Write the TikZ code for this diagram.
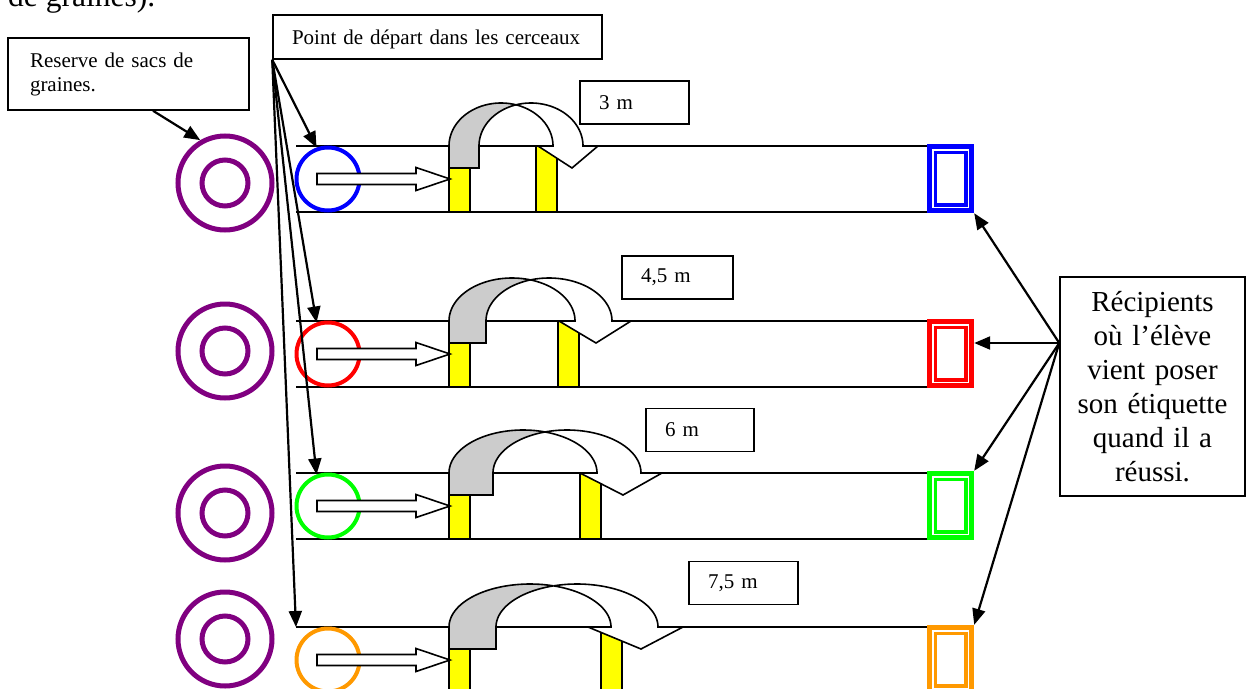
\documentclass[tikz,border=0pt]{standalone}
\usepackage{fontspec}
\setmainfont{Liberation Serif}
\usetikzlibrary{arrows.meta}

\definecolor{hoopblue}{RGB}{0,0,255}
\definecolor{hoopred}{RGB}{255,0,0}
\definecolor{hoopgreen}{RGB}{0,255,0}
\definecolor{hooporange}{RGB}{255,153,0}
\definecolor{stockpurple}{RGB}{128,0,128}
\definecolor{postyellow}{RGB}{255,255,0}
\definecolor{backgray}{RGB}{204,204,204}

% Curved jump arrow over the hurdles:
% #1 lane top, #2 left x, #3 half width of one arc, #4 band width,
% #5 head left x, #6 head right x, #7 head tip x
\newcommand{\jumparrow}[7]{%
  \pgfmathsetmacro{\jaA}{#2+#3}%
  \pgfmathsetmacro{\jaB}{#2+#4+#3}%
  \pgfmathsetmacro{\jaT}{acos(#4/(2*#3))}%
  \pgfmathsetmacro{\jaP}{180-\jaT}%
  \pgfmathsetmacro{\jaY}{#1+22}%
  \pgfmathsetmacro{\jaI}{#2+#4}%
  % back side of the ribbon
  \filldraw[band, fill=backgray] (#2,\jaY)
    -- plot[domain=180:\jaT, samples=40] ({\jaA+#3*cos(\x)},{#1-43*sin(\x)})
    -- plot[domain=\jaP:180, samples=40] ({\jaB+#3*cos(\x)},{#1-43*sin(\x)})
    -- (\jaI,\jaY) -- cycle;
  % front side with the arrow head
  \filldraw[band, fill=white]
    plot[domain=\jaT:0, samples=40] ({\jaA+#3*cos(\x)},{#1-43*sin(\x)})
    -- (#5,#1) -- (#7,\jaY) -- (#6,#1)
    -- plot[domain=0:\jaP, samples=40] ({\jaB+#3*cos(\x)},{#1-43*sin(\x)})
    -- cycle;
}

\begin{document}
\begin{tikzpicture}[x=1pt, y=-1pt,
  box/.style={draw, line width=1.5pt, inner ysep=0pt, fill=white,
              font=\fontsize{21}{24}\selectfont},
  distbox/.style={box, minimum height=43pt, inner xsep=19pt, align=left},
  conn/.style={draw, line width=2.2pt, -{Triangle[length=16pt,width=13pt]}},
  laneline/.style={line width=2pt},
  post/.style={draw=black, fill=postyellow, line width=1.6pt},
  band/.style={draw=black, line width=1.6pt, line join=miter},
  runarrow/.style={draw=black, fill=white, line width=1.6pt},
  hoop/.style={circle, line width=4pt, minimum size=63pt, inner sep=0pt},
  stock/.style={circle, draw=stockpurple, line width=5pt, minimum size=94pt, inner sep=0pt},
  bin/.style={rectangle, minimum width=47pt, minimum height=69pt, inner sep=0pt}
]
\useasboundingbox (0,0) rectangle (1247,688);

% end of the sentence above the plan
\node[anchor=base west, inner sep=0pt, font=\fontsize{31.5}{36}\selectfont] (intro) at (8,6) {de graines).};

% four running lanes
\foreach \i/\yt/\col/\py/\pb/\rx/\bw/\hl/\hr/\tx in {
  1/146/hoopblue/183/536/52/30/538/598/572,
  2/321/hoopred/351/558/63/37/559/631/596,
  3/473/hoopgreen/513/580/74/44/580/662/623,
  4/627/hooporange/639/601/81/47/588/683/641}{
  \pgfmathsetmacro{\yb}{\yt+66}
  \pgfmathsetmacro{\yc}{\yt+33}
  \pgfmathsetmacro{\pe}{\pb+21}
  % lane borders
  \coordinate (lanestart\i) at (296,\yt);
  \draw[laneline] (lanestart\i) -- (927,\yt);
  \draw[laneline] (296,\yb) -- (927,\yb);
  % stock of seed bags
  \node[stock] (stock\i) at (225,\py) {};
  \draw[stockpurple, line width=5pt] (stock\i.center) circle[radius=23pt];
  % hurdles
  \filldraw[post] (449,\yt) rectangle (470,\yb);
  \filldraw[post] (\pb,\yt) rectangle (\pe,\yb);
  % jump over the hurdles
  \jumparrow{\yt}{449}{\rx}{\bw}{\hl}{\hr}{\tx}
  % starting hoop and run
  \node[hoop, draw=\col] (hoop\i) at (328,\yc) {};
  \filldraw[runarrow] (317,\yc-5.5) -- (416,\yc-5.5) -- (416,\yc-11.5)
    -- (450,\yc) -- (416,\yc+11.5) -- (416,\yc+5.5) -- (317,\yc+5.5) -- cycle;
  % container for the label: thick-thin double border
  \node[bin] (bin\i) at (950.5,\yt+32.5) {};
  \fill[\col] (927,\yt-2) rectangle (974,\yt+67);
  \fill[white] (932,\yt+3) rectangle (969,\yt+62);
  \fill[\col] (933.5,\yt+4.5) rectangle (967.5,\yt+60.5);
  \fill[white] (936.8,\yt+7.8) rectangle (964.2,\yt+57.2);
}

% distance labels
\node[distbox, text width=71pt] (d1) at (634.5,102.5) {3 m};
\node[distbox, text width=73pt] (d2) at (677.5,277.5) {4,5 m};
\node[distbox, text width=70pt] (d3) at (700,430) {6 m};
\node[distbox, text width=71pt] (d4) at (743.5,583) {7,5 m};

% callouts
\node[box, minimum width=241pt, minimum height=72pt, inner xsep=22pt,
      text width=197pt, align=left] (reserve) at (128.5,74)
      {Reserve de sacs de\\graines.};
\node[box, minimum height=44pt, inner xsep=19pt, text width=291pt, align=left]
      (start) at (437.5,37) {\rule{0pt}{20pt}Point de départ dans les cerceaux};
\node[box, minimum width=185pt, minimum height=219pt, inner xsep=4pt,
      text width=177pt, align=center, font=\fontsize{29}{34}\selectfont]
      (recip) at (1152.5,386.5)
      {Récipients\\où l’élève\\vient poser\\son étiquette\\quand il a\\réussi.};

% connectors
\draw[conn] ([xshift=24.5pt]reserve.south) -- (stock1.120);
\draw[conn] (start.south west) -- (hoop1.110);
\draw[conn] (start.south west) -- (hoop2.110);
\draw[conn] (start.south west) -- (hoop3.110);
\draw[conn] (start.south west) -- (lanestart4);

\coordinate (rsrc) at ([yshift=43.5pt]recip.west);
\draw[conn] (rsrc) -- (bin1.south east);
\draw[conn] (rsrc) -- (bin2.east |- rsrc);
\draw[conn] (rsrc) -- (bin3.north east);
\draw[conn] (rsrc) -- (bin4.north east);
\end{tikzpicture}
\end{document}
